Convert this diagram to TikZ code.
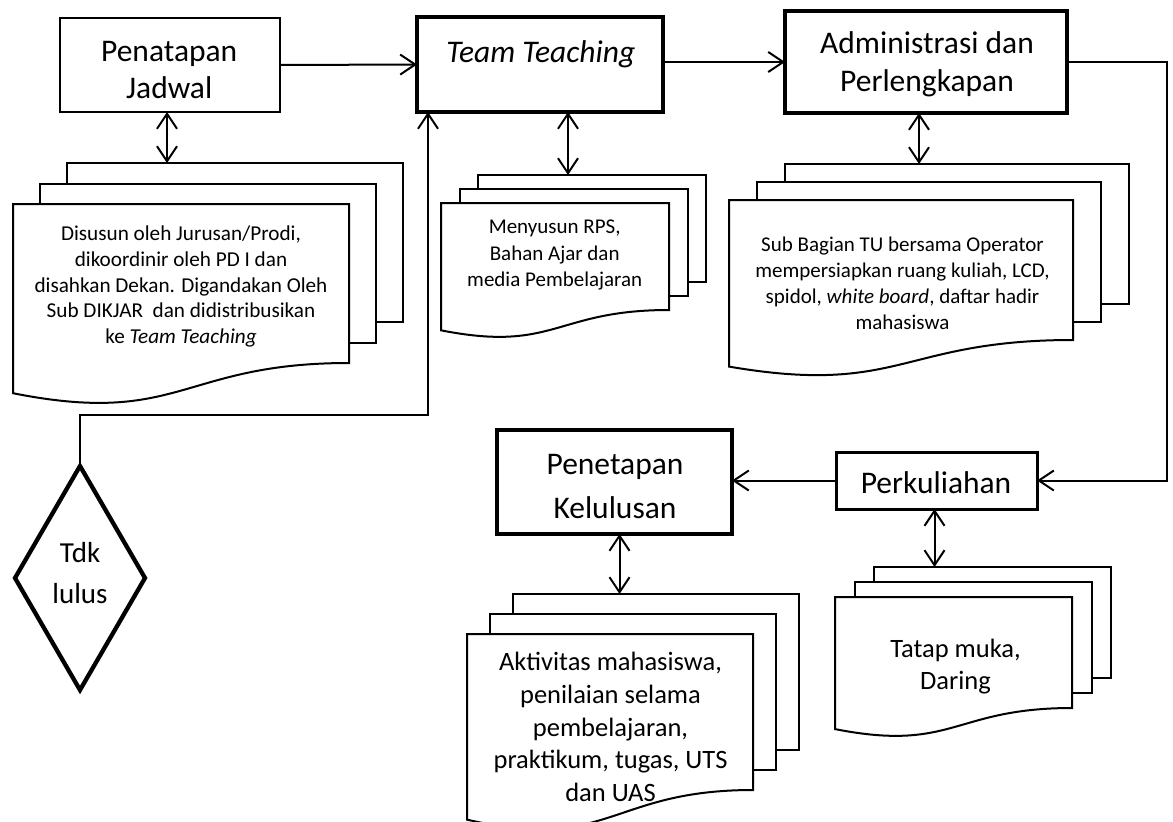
\documentclass[tikz,border=0pt]{standalone}
\usepackage{fontspec}
\setmainfont{Carlito}
\usetikzlibrary{arrows.meta,shapes.geometric}

\newcommand\fsz[2]{\fontsize{#1}{#2}\selectfont}

% A stack of three pages with a wavy bottom on the front page.
% #1 name of the coordinate at the top middle of the rear page,
% #2,#3 top-left corner of the front page, #4 page width,
% #5 depth of the right edge, #6,#7 offset from one page to the next.
\newcommand\docstack[7]{%
  \draw[page] ({#2+2*(#6)}, {#3+2*(#7)}) rectangle +(#4, #5);
  \draw[page] ({#2+#6}, {#3+#7}) rectangle +(#4, #5);
  \draw[page] (#2, #3) -- ({#2+#4}, #3) -- ({#2+#4}, {#3+#5})
    .. controls ({#2+#4/2}, {#3+#5}) and ({#2+#4/2}, {#3+1.40*#5}) .. (#2, {#3+1.19*#5}) -- cycle;
  \coordinate (#1) at ({#2+2*(#6)+#4/2}, {#3+2*(#7)});
}

\begin{document}
\begin{tikzpicture}[x=1pt, y=-1pt,
  >={Straight Barb[length=15pt,width=20pt]},
  box/.style={draw, fill=white, inner sep=0pt, outer sep=0pt, line width=#1},
  page/.style={draw, fill=white, line width=2pt, line join=miter},
  big/.style={inner sep=0pt, align=center, font=\fsz{31.5}{37}},
  small/.style={inner sep=0pt, align=center, font=\fsz{21.2}{25.6}},
  mid/.style={inner sep=0pt, align=center, font=\fsz{26.5}{32.6}},
  flow/.style={line width=2pt, ->},
  both/.style={line width=2pt, <->},
]
\fill[white] (0,0) rectangle (1173,822);
\useasboundingbox (0,0) rectangle (1173,822);

% process boxes
\node[box=2.2pt, minimum width=220pt, minimum height=94pt] (pj) at (170,65) {};
\node[big] (pjt) at (169.2,72.9) {Penatapan\strut\\Jadwal\strut};

\node[box=3.3pt, minimum width=246pt, minimum height=95pt] (tt) at (540,64.5) {};
\node[big] (ttt) at (540.8,55.3) {\textit{Team Teaching}\strut};

\node[box=3.3pt, minimum width=282pt, minimum height=102pt] (adm) at (926,62) {};
\node[big, font=\fsz{31.5}{37.7}] (admt) at (927,65.3) {Administrasi dan\strut\\Perlengkapan\strut};

\node[box=3pt, minimum width=201pt, minimum height=57pt] (perk) at (936.5,480.5) {};
\node[big] (perkt) at (936,485.9) {Perkuliahan\strut};

\node[box=4pt, minimum width=235pt, minimum height=104pt] (kel) at (614.5,482) {};
\node[big, font=\fsz{31.5}{44}] (kelt) at (615,487.2) {Penetapan\strut\\Kelulusan\strut};

% decision
\node[draw, diamond, line width=4.3pt, inner sep=0pt, outer sep=0pt,
      minimum width=130pt, minimum height=224pt] (tdk) at (80,578) {};
\node[inner sep=0pt, align=center, font=\fsz{29}{41}] (tdkt) at (80,574.3) {Tdk\strut\\lulus\strut};

% document stacks
\docstack{s1}{13}{204}{336}{159}{27}{-20.5}
\node[small] (s1t) at (181,286.9) {Disusun oleh Jurusan/Prodi,\strut\\dikoordinir oleh PD I dan\strut\\disahkan Dekan. Digandakan Oleh\strut\\Sub DIKJAR\ \ dan didistribusikan\strut\\ke \textit{Team Teaching}\strut};

\docstack{s2}{441}{203}{228}{107}{18.5}{-14}
\node[small, font=\fsz{21}{26.7}] (s2t) at (554.7,254.7) {Menyusun RPS,\strut\\Bahan Ajar dan\strut\\media Pembelajaran\strut};

\docstack{s3}{729}{200}{344}{140}{28}{-18}
\node[small, font=\fsz{21}{25.9}] (s3t) at (902.5,285.3) {Sub Bagian TU bersama Operator\strut\\mempersiapkan ruang kuliah, LCD,\strut\\spidol, \textit{white board}, daftar hadir\strut\\mahasiswa\strut};

\docstack{s4}{835}{597}{237}{111}{19.5}{-15}
\node[mid] (s4t) at (955.5,667.1) {Tatap muka,\strut\\Daring\strut};

\docstack{s5}{467}{634}{286}{156}{23}{-20}
\node[mid] (s5t) at (610.5,729.5) {Aktivitas mahasiswa,\strut\\penilaian selama\strut\\pembelajaran,\strut\\praktikum, tugas, UTS\strut\\dan UAS\strut};

% main flow
\draw[flow] (pj.east) -- (tt.west);
\draw[flow] (tt.east |- adm.west) -- (adm.west);
\draw[flow] (adm.east) -- ++(100,0) |- (perk.east);
\draw[flow] (perk.west) -- (kel.east |- perk.west);
\draw[flow] (tdk.north) -- ++(0,-51) -| ([xshift=11pt]tt.south west);

% links to the documents
\draw[both] ([xshift=-3pt]pj.south) -- ([xshift=-3pt]pj.south |- s1);
\draw[both] ([xshift=28pt]tt.south) -- ([xshift=28pt]tt.south |- s2);
\draw[both] ([xshift=-7pt]adm.south) -- ([xshift=-7pt]adm.south |- s3);
\draw[both] ([xshift=-2pt]perk.south) -- ([xshift=-2pt]perk.south |- s4);
\draw[both] ([xshift=5pt]kel.south) -- ([xshift=5pt]kel.south |- s5);
\end{tikzpicture}
\end{document}
